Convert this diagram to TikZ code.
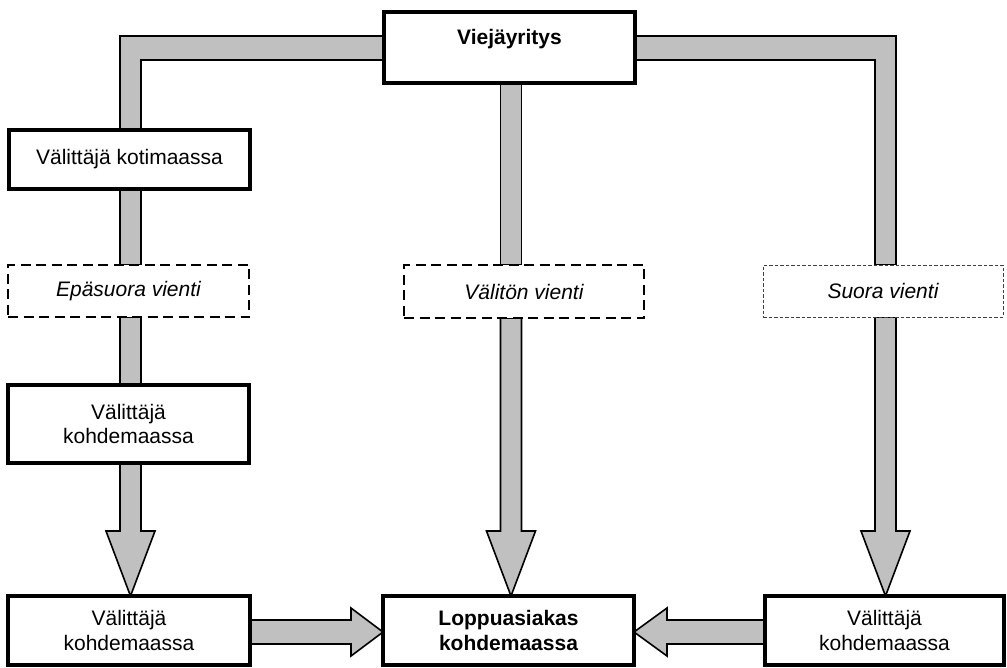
\documentclass[tikz,border=0pt]{standalone}
\usepackage{fontspec}
\setmainfont{Liberation Sans}
\usetikzlibrary{calc}
\definecolor{bargray}{HTML}{C0C0C0}
\pgfdeclarelayer{background}
\pgfsetlayers{background,main}

% gray channel segment between two anchors along a vertical bar line
\newcommand\fatbar[3]{%
  \draw[shaft] ($(#1 |- #2)+(-10.5,0)$) rectangle ($(#1 |- #3)+(10.5,0)$);}
% gray downward block arrow ending on a box
\newcommand\fatdown[3]{%
  \draw[shaft] ($(#1 |- #2)+(-10.5,0)$) -- ($(#1 |- #3)+(-10.5,-65)$)
    -- ($(#1 |- #3)+(-24.5,-65)$) -- (#1 |- #3) -- ($(#1 |- #3)+(24.5,-65)$)
    -- ($(#1 |- #3)+(10.5,-65)$) -- ($(#1 |- #2)+(10.5,0)$) -- cycle;}

\tikzset{
  every node/.style={inner sep=0pt, outer sep=0pt, align=center,
    font=\fontsize{21}{24.5}\selectfont},
  firm/.style={draw=black, line width=3.5pt, fill=white},
  route/.style={draw=black, line width=1.8pt, fill=white,
    dash pattern=on 10pt off 5.5pt, font=\fontsize{21}{24.5}\selectfont\itshape},
  thinroute/.style={draw=black!75, line width=1pt, fill=white,
    dash pattern=on 3.5pt off 2pt, font=\fontsize{21}{24.5}\selectfont\itshape},
  strong/.style={font=\fontsize{21}{24.5}\selectfont\bfseries},
  shaft/.style={fill=bargray, draw=black, line width=1.6pt, line join=miter},
}

\begin{document}
\begin{tikzpicture}[x=1pt,y=-1pt]
\useasboundingbox (0,0) rectangle (1007,667);

% boxes
\node[firm, strong, minimum width=251, minimum height=71,
      text height=15pt, text depth=22pt] (exp) at (509.5,47.5) {Viejäyritys};
\node[firm, minimum width=241, minimum height=59] (dom) at (129.5,159.5) {Välittäjä kotimaassa};
\node[route, minimum width=241, minimum height=52] (ind) at (128.5,291) {Epäsuora vienti};
\node[route, minimum width=240, minimum height=53] (dir) at (524,291.5) {Välitön vienti};
\node[thinroute, minimum width=240, minimum height=52] (sv) at (883,291) {Suora vienti};
\node[firm, minimum width=241, minimum height=78] (tgt) at (128.5,424) {Välittäjä\\kohdemaassa};
\node[firm, minimum width=242, minimum height=69] (bl) at (129,630.5) {Välittäjä\\kohdemaassa};
\node[firm, strong, minimum width=251, minimum height=69] (cust) at (508.5,630.5) {Loppuasiakas\\kohdemaassa};
\node[firm, minimum width=239, minimum height=69] (br) at (884.5,630.5) {Välittäjä\\kohdemaassa};

% reference lines for the channels
\coordinate (bandT) at (0,36);
\coordinate (bandB) at (0,60);
\coordinate (barL) at (130.5,0);
\coordinate (barC) at (511,0);
\coordinate (barR) at (885.5,0);
\coordinate (rowA) at (0,632);

\begin{pgfonlayer}{background}
  % left branch from the exporter
  \draw[shaft] (exp.west |- bandT) -- ($(barL |- bandT)+(-10.5,0)$)
    -- ($(barL |- dom.north)+(-10.5,0)$) -- ($(barL |- dom.north)+(10.5,0)$)
    -- ($(barL |- bandB)+(10.5,0)$) -- (exp.west |- bandB) -- cycle;
  \fatbar{barL}{dom.south}{ind.north}
  \fatbar{barL}{ind.south}{tgt.north}
  \fatdown{barL}{tgt.south}{bl.north}

  % centre branch
  \fatbar{barC}{exp.south}{dir.north}
  \fatdown{barC}{dir.south}{cust.north}

  % right branch
  \draw[shaft] (exp.east |- bandT) -- ($(barR |- bandT)+(10.5,0)$)
    -- ($(barR |- sv.north)+(10.5,0)$) -- ($(barR |- sv.north)+(-10.5,0)$)
    -- ($(barR |- bandB)+(-10.5,0)$) -- (exp.east |- bandB) -- cycle;
  \fatdown{barR}{sv.south}{br.north}

  % horizontal arrows into the end customer
  \draw[shaft] ($(bl.east |- rowA)+(0,-12)$) -- ($(cust.west |- rowA)+(-32,-12)$)
    -- ($(cust.west |- rowA)+(-32,-24)$) -- (cust.west |- rowA)
    -- ($(cust.west |- rowA)+(-32,24)$) -- ($(cust.west |- rowA)+(-32,12)$)
    -- ($(bl.east |- rowA)+(0,12)$) -- cycle;
  \draw[shaft] ($(br.west |- rowA)+(0,-12)$) -- ($(cust.east |- rowA)+(33,-12)$)
    -- ($(cust.east |- rowA)+(33,-24)$) -- (cust.east |- rowA)
    -- ($(cust.east |- rowA)+(33,24)$) -- ($(cust.east |- rowA)+(33,12)$)
    -- ($(br.west |- rowA)+(0,12)$) -- cycle;
\end{pgfonlayer}
\end{tikzpicture}
\end{document}
